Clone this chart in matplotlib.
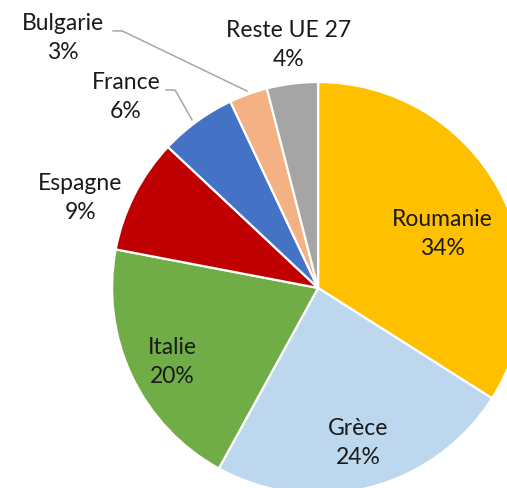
import matplotlib
matplotlib.use("Agg")
import matplotlib.pyplot as plt

# share of each country, in percent
countries = ["Roumanie", "Grèce", "Italie", "Espagne", "France", "Bulgarie", "Reste UE 27"]
shares = [34, 24, 20, 9, 6, 3, 4]
colors = ["#FFC000", "#BDD7EE", "#70AD47", "#C00000", "#4472C4", "#F4B183", "#A5A5A5"]

# label centres, in pie-radius units
label_pos = [(0.602, 0.262), (0.194, -0.752), (-0.709, -0.359), (-1.155, 0.437),
             (-0.932, 0.927), (-1.238, 1.214), (-0.141, 1.180)]

# leader lines for the two small outer labels
leaders = {
    "France": [(-0.738, 0.961), (-0.694, 0.961), (-0.612, 0.816)],
    "Bulgarie": [(-0.995, 1.248), (-0.951, 1.248), (-0.345, 0.956)],
}

plt.rcParams['font.family'] = ['Lato', 'DejaVu Sans']

fig = plt.figure(figsize=(5.07, 4.88), dpi=100)
ax = fig.add_axes([0, 0, 1, 1])

ax.pie(shares, colors=colors, startangle=90, counterclock=False, radius=1,
       wedgeprops=dict(edgecolor="white", linewidth=1.6))

for name, val, (x, y) in zip(countries, shares, label_pos):
    ax.text(x, y, f"{name}\n{val}%", ha="center", va="center", fontsize=16.5,
            color="#1a1a1a", linespacing=1.45)

for name, pts in leaders.items():
    xs = [p[0] for p in pts]
    ys = [p[1] for p in pts]
    ax.plot(xs, ys, color="#A6A6A6", linewidth=1.1)

ax.set_aspect("auto")
ax.set_xlim(-1.544, 0.917)
ax.set_ylim(-0.971, 1.398)
ax.axis("off")

fig.savefig("out.png", dpi=100)
